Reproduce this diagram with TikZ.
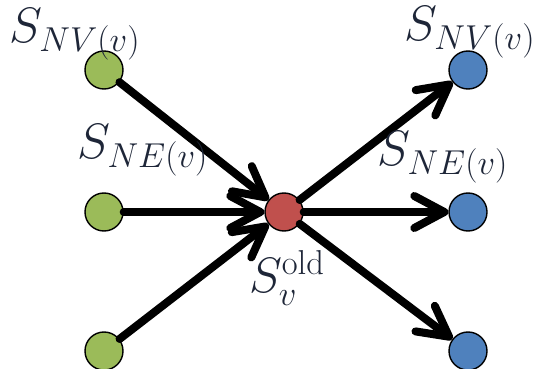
\documentclass[tikz,border=0pt]{standalone}
\usetikzlibrary{arrows.meta}
\definecolor{gfill}{HTML}{9BBB59}
\definecolor{rfill}{HTML}{C0504D}
\definecolor{bfill}{HTML}{4F81BD}
\definecolor{labcol}{HTML}{1E2638}
\begin{document}
\begin{tikzpicture}[x=0.5pt,y=-0.5pt,
  vert/.style={circle,draw=black,line width=0.7pt,minimum size=19pt,inner sep=0pt},
  conn/.style={line width=4pt,line cap=round,-{Straight Barb[length=15pt,width=16pt,line cap=round,line join=round]}},
  lab/.style={text=labcol,inner sep=0pt,font=\fontsize{25}{30}\selectfont}]
\useasboundingbox (0,0) rectangle (536,369);
\node[vert,fill=gfill] (g1) at (104,70) {};
\node[vert,fill=gfill] (g2) at (104,212) {};
\node[vert,fill=gfill] (g3) at (104,351) {};
\node[vert,fill=rfill] (r) at (284,212) {};
\node[vert,fill=bfill] (b1) at (468,70) {};
\node[vert,fill=bfill] (b2) at (468,212) {};
\node[vert,fill=bfill] (b3) at (468,351) {};
\draw[conn] (g1) -- (r);
\draw[conn] (g2) -- (r);
\draw[conn] (g3) -- (r);
\draw[conn] (r) -- (b1);
\draw[conn] (r) -- (b2);
\draw[conn] (r) -- (b3);
\node[lab] (l1) at (75,34) {$S_{NV(v)}$};
\node[lab] (l2) at (143,150) {$S_{NE(v)}$};
\node[lab] (l3) at (470,32) {$S_{NV(v)}$};
\node[lab] (l4) at (443,157) {$S_{NE(v)}$};
\node[lab] (l5) at (287,278) {$S_v^{\mathrm{old}}$};
\end{tikzpicture}
\end{document}
